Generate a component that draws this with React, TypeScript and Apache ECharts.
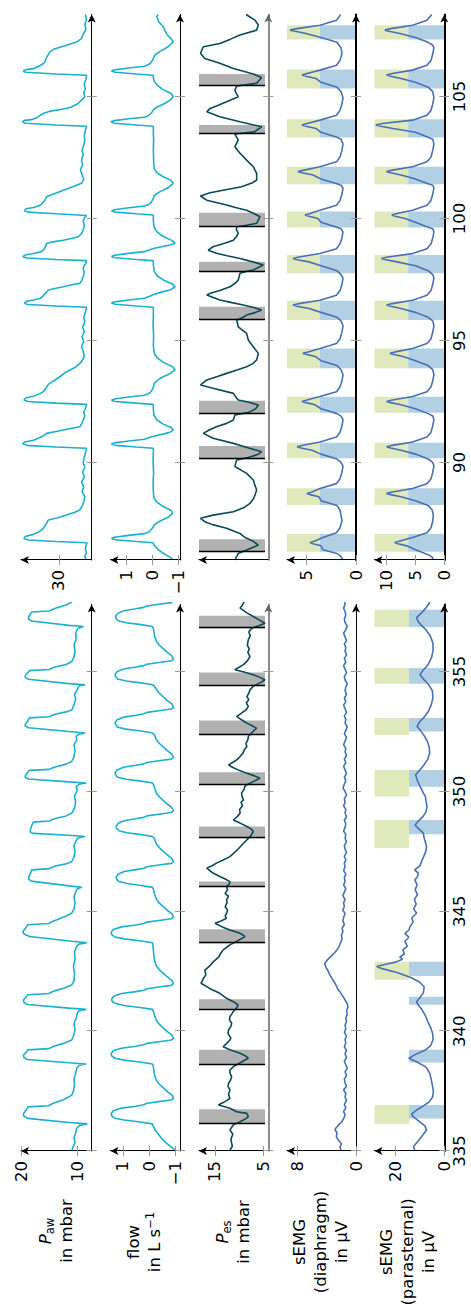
import React, { useEffect, useRef } from "react";
import * as echarts from "echarts";

const FONT = "DejaVu Sans";

// ---------------- tick labels ----------------
const timeTicksL = [335, 340, 345, 350, 355];
const timeTicksR = [90, 95, 100, 105];
const pawTicksL = [10, 20];
const flowTicksL = [-1, 0, 1];
const pesTicksL = [5, 15];
const diaTicksL = [0, 8];
const paraTicksL = [0, 20];
const pawTicksR = [30];
const flowTicksR = [-1, 0, 1];
const diaTicksR = [0, 5];
const paraTicksR = [0, 5, 10];

// ---------------- left window (335 s - 358 s) ----------------
const pawL = [
[335.0,11.0],[335.15,10.8],[335.35,10.4],[335.55,10.6],[335.75,10.3],[335.95,10.1],[336.07,9.6],
[336.13,8.2],[336.19,11.5],[336.36,18.9],[336.45,19.6],[336.55,19.7],[336.7,19.2],[336.84,18.9],[336.89,15.2],[336.95,14.7],[337.0,14.2],[337.15,12.4],[337.33,11.0],[337.5,10.7],
[337.75,10.5],[338.0,10.6],[338.25,10.3],[338.45,10.1],[338.57,9.7],
[338.63,8.4],[338.68,11.5],[338.82,19.0],[338.9,19.6],[339.0,19.7],[339.12,19.2],[339.22,18.9],[339.27,15.1],[339.33,14.6],[339.38,14.1],[339.5,12.3],[339.63,11.0],[339.8,10.7],
[340.05,10.4],[340.3,10.6],[340.55,10.2],[340.75,10.0],[340.85,9.7],
[340.91,8.4],[340.96,11.5],[341.11,19.0],[341.2,19.6],[341.3,19.7],[341.42,19.2],[341.52,18.9],[341.57,15.1],[341.63,14.6],[341.68,14.1],[341.8,12.3],[341.93,11.0],[342.1,10.6],
[342.4,10.5],[342.7,10.7],[343.0,10.4],[343.3,10.5],[343.5,10.2],[343.63,9.7],
[343.69,8.3],[343.75,11.0],[343.95,18.6],[344.05,19.6],[344.15,19.8],[344.3,19.3],[344.44,18.9],[344.49,15.1],[344.55,14.7],[344.62,14.0],[344.78,12.2],[344.92,11.0],[345.1,10.6],
[345.35,10.4],[345.6,10.6],[345.8,10.3],[345.94,10.0],
[346.0,9.2],[346.06,11.5],[346.26,18.3],[346.35,18.8],[346.45,18.7],[346.6,18.4],[346.73,18.2],[346.78,15.0],[346.84,14.5],[346.9,13.8],[346.98,12.0],[347.07,11.0],[347.25,10.6],
[347.5,10.4],[347.75,10.6],[347.95,10.2],[348.06,9.9],
[348.12,8.6],[348.17,11.5],[348.25,18.0],[348.32,18.5],[348.42,18.4],[348.58,18.2],[348.72,17.9],[348.77,15.0],[348.83,14.5],[348.88,13.8],[348.98,12.0],[349.1,11.0],[349.3,10.5],
[349.55,10.3],[349.8,10.5],[350.05,10.0],[350.2,10.2],[350.3,9.7],
[350.35,8.4],[350.4,11.5],[350.52,18.8],[350.6,19.4],[350.68,19.3],[350.8,18.9],[350.88,18.6],[350.92,15.0],[350.98,14.5],[351.03,13.8],[351.14,12.0],[351.25,11.0],[351.45,10.6],
[351.7,10.4],[351.95,10.6],[352.15,10.1],[352.3,10.2],[352.39,9.7],
[352.44,8.6],[352.5,11.5],[352.66,18.8],[352.74,19.4],[352.82,19.3],[352.95,18.9],[353.07,18.6],[353.12,15.0],[353.18,14.5],[353.23,13.8],[353.32,12.0],[353.4,11.0],[353.6,10.6],
[353.85,10.3],[354.05,10.5],[354.25,10.0],[354.4,9.7],
[354.45,8.6],[354.5,11.5],[354.68,18.8],[354.76,19.4],[354.85,19.3],[354.95,18.9],[355.04,18.6],[355.09,15.0],[355.15,14.5],[355.2,13.8],[355.3,12.0],[355.42,11.0],[355.6,10.6],
[355.85,10.4],[356.1,10.6],[356.35,10.2],[356.6,10.3],[356.8,9.9],
[356.88,8.9],[356.93,11.5],[357.11,18.2],[357.19,18.8],[357.3,18.7],[357.42,18.4],[357.49,18.2],[357.53,15.0],[357.59,14.5],[357.65,13.8],[357.78,12.0],[357.9,11.0]
];

const flowL = [
[335.0,-1.0],[335.1,-0.93],[335.3,-0.7],[335.5,-0.5],[335.7,-0.36],[335.9,-0.22],[336.05,-0.16],
[336.13,-0.13],[336.21,0.35],[336.29,0.95],[336.37,1.3],[336.46,1.42],[336.55,1.45],[336.68,1.37],[336.79,1.05],[336.87,0.5],[336.93,0.2],[336.99,0.08],[337.07,-0.45],[337.13,-0.85],[337.2,-0.94],[337.33,-0.88],[337.48,-0.7],[337.63,-0.55],[337.78,-0.4],[337.93,-0.29],[338.13,-0.22],[338.33,-0.19],[338.55,-0.16],
[338.63,-0.13],[338.71,0.35],[338.79,0.95],[338.87,1.3],[338.96,1.42],[339.05,1.45],[339.18,1.37],[339.29,1.05],[339.37,0.5],[339.43,0.2],[339.49,0.08],[339.57,-0.45],[339.63,-0.85],[339.7,-0.94],[339.83,-0.88],[339.98,-0.7],[340.13,-0.55],[340.28,-0.4],[340.43,-0.29],[340.63,-0.22],[340.83,-0.17],
[340.91,-0.13],[340.99,0.35],[341.07,0.95],[341.15,1.28],[341.24,1.4],[341.33,1.43],[341.46,1.35],[341.57,1.05],[341.65,0.5],[341.71,0.2],[341.77,0.08],[341.85,-0.45],[341.91,-0.85],[341.98,-0.94],[342.11,-0.88],[342.26,-0.7],[342.41,-0.55],[342.56,-0.4],[342.71,-0.29],[342.91,-0.22],[343.11,-0.19],[343.35,-0.17],[343.6,-0.15],
[343.69,-0.13],[343.77,0.35],[343.85,0.95],[343.93,1.3],[344.02,1.42],[344.11,1.45],[344.24,1.37],[344.35,1.05],[344.43,0.5],[344.49,0.2],[344.55,0.08],[344.63,-0.45],[344.69,-0.85],[344.76,-0.94],[344.89,-0.88],[345.04,-0.7],[345.19,-0.55],[345.34,-0.4],[345.49,-0.29],[345.69,-0.22],[345.92,-0.17],
[346.0,-0.13],[346.08,0.3],[346.16,0.85],[346.24,1.15],[346.33,1.23],[346.42,1.26],[346.55,1.18],[346.66,0.95],[346.74,0.5],[346.8,0.2],[346.86,0.08],[346.94,-0.45],[347.0,-0.85],[347.07,-0.94],[347.2,-0.88],[347.35,-0.7],[347.5,-0.55],[347.65,-0.4],[347.8,-0.29],[348.05,-0.2],
[348.12,-0.13],[348.2,0.3],[348.28,0.85],[348.36,1.15],[348.45,1.23],[348.54,1.26],[348.67,1.18],[348.78,0.95],[348.86,0.5],[348.92,0.2],[348.98,0.08],[349.06,-0.45],[349.12,-0.85],[349.19,-0.94],[349.32,-0.88],[349.47,-0.7],[349.62,-0.55],[349.77,-0.4],[349.92,-0.29],[350.12,-0.22],[350.28,-0.18],
[350.35,-0.13],[350.43,0.3],[350.51,0.88],[350.59,1.2],[350.68,1.27],[350.77,1.3],[350.9,1.22],[351.01,0.97],[351.09,0.5],[351.15,0.2],[351.21,0.08],[351.29,-0.45],[351.35,-0.85],[351.42,-0.94],[351.55,-0.88],[351.7,-0.7],[351.85,-0.55],[352.0,-0.4],[352.15,-0.29],[352.37,-0.2],
[352.44,-0.13],[352.52,0.3],[352.6,0.88],[352.68,1.2],[352.77,1.27],[352.86,1.3],[352.99,1.22],[353.1,0.97],[353.18,0.5],[353.24,0.2],[353.3,0.08],[353.38,-0.45],[353.44,-0.85],[353.51,-0.94],[353.64,-0.88],[353.79,-0.7],[353.94,-0.55],[354.09,-0.4],[354.24,-0.29],[354.4,-0.2],
[354.45,-0.13],[354.53,0.3],[354.61,0.88],[354.69,1.2],[354.78,1.27],[354.87,1.3],[355.0,1.22],[355.11,0.97],[355.19,0.5],[355.25,0.2],[355.31,0.08],[355.39,-0.45],[355.45,-0.85],[355.52,-0.94],[355.65,-0.88],[355.8,-0.7],[355.95,-0.55],[356.1,-0.4],[356.25,-0.29],[356.45,-0.22],[356.65,-0.19],[356.82,-0.16],
[356.88,-0.13],[356.96,0.3],[357.04,0.87],[357.12,1.18],[357.21,1.25],[357.3,1.28],[357.43,1.2],[357.54,0.96],[357.62,0.5],[357.68,0.2],[357.74,0.08],[357.82,-0.45],[357.88,-0.85],[357.95,-0.94]
];

const pesL = [
[335.0,11.8],[335.04,11.9],[335.2,11.4],[335.32,11.55],[335.5,11.7],[335.7,11.3],[335.88,11.9],[336.0,11.5],[336.09,11.2],[336.22,9.8],[336.35,8.6],[336.43,8.1],[336.52,8.3],[336.57,8.4],[336.64,10.5],[336.78,11.9],[336.92,14.3],[337.02,13.3],[337.1,12.6],[337.2,11.9],[337.35,12.2],[337.55,11.9],[337.7,12.3],[337.82,12.2],[337.95,11.8],[338.1,11.55],[338.25,11.9],[338.38,11.9],[338.52,11.2],[338.7,9.6],[338.87,8.1],[338.98,8.8],[339.08,9.8],[339.22,11.9],[339.35,13.3],[339.45,12.8],[339.56,12.2],[339.7,11.7],[339.77,11.9],[339.9,12.3],[340.05,12.2],[340.2,11.7],[340.33,11.55],[340.47,12.0],[340.61,11.9],[340.72,11.5],[340.82,11.2],[340.95,10.6],[341.09,10.2],[341.23,11.2],[341.37,12.6],[341.58,14.0],[341.75,15.8],[341.86,16.7],[342.0,17.9],[342.1,17.6],[342.2,17.4],[342.35,16.9],[342.55,17.1],[342.7,16.2],[342.9,15.3],[343.1,14.2],[343.25,13.8],[343.39,13.3],[343.5,12.6],[343.6,11.9],[343.75,10.5],[343.88,9.3],[343.95,8.8],[344.02,9.3],[344.08,9.8],[344.22,11.9],[344.35,13.5],[344.5,15.0],[344.57,14.0],[344.71,12.6],[344.8,12.9],[344.92,12.6],[345.05,12.4],[345.2,12.9],[345.35,12.5],[345.48,12.6],[345.62,12.2],[345.75,12.9],[345.9,12.4],[346.03,12.6],[346.15,12.0],[346.24,11.9],[346.35,12.9],[346.45,14.0],[346.62,15.6],[346.8,16.7],[346.9,15.6],[347.01,14.7],[347.15,13.2],[347.28,11.9],[347.45,11.0],[347.6,10.2],[347.84,9.1],[348.0,8.3],[348.15,7.6],[348.33,7.06],[348.45,7.6],[348.54,8.4],[348.68,9.8],[348.81,11.2],[348.95,10.4],[349.09,9.8],[349.25,9.9],[349.4,9.3],[349.55,9.6],[349.65,9.1],[349.8,9.4],[349.93,9.5],[350.08,9.0],[350.21,8.8],[350.28,8.4],[350.42,7.0],[350.55,5.7],[350.65,6.8],[350.76,8.4],[350.9,10.2],[351.0,11.3],[351.11,12.2],[351.25,11.0],[351.35,10.3],[351.46,9.8],[351.6,9.2],[351.75,8.9],[351.88,8.4],[352.0,8.6],[352.15,8.2],[352.29,8.1],[352.45,7.4],[352.64,6.4],[352.75,7.4],[352.85,8.4],[353.0,9.6],[353.13,10.5],[353.27,9.5],[353.4,8.6],[353.54,8.1],[353.7,8.5],[353.83,8.0],[353.96,8.4],[354.1,8.0],[354.24,7.75],[354.4,7.0],[354.55,5.5],[354.66,4.65],[354.77,5.8],[354.87,7.06],[354.98,9.0],[355.08,10.9],[355.18,10.0],[355.29,9.1],[355.45,8.3],[355.63,7.75],[355.8,8.2],[355.95,7.9],[356.1,8.3],[356.33,8.1],[356.5,7.7],[356.65,8.0],[356.81,7.4],[356.92,5.8],[357.02,4.65],[357.15,5.8],[357.3,7.06],[357.45,8.4],[357.65,9.8],[357.75,9.4],[357.86,9.1],[358.0,8.8]
];

const diaL = [
[335.0,2.0],[335.15,2.2],[335.3,2.0],[335.45,2.4],[335.6,2.7],[335.75,2.6],[335.9,2.9],[336.05,2.5],[336.2,2.0],[336.35,1.7],[336.5,1.5],[336.65,1.7],[336.8,1.4],[336.95,1.6],[337.1,1.3],[337.25,1.5],[337.4,1.4],[337.55,1.7],[337.7,1.3],[337.85,1.5],[338.0,1.6],[338.15,1.3],[338.3,1.5],[338.45,1.2],[338.6,1.4],[338.75,1.6],[338.9,1.3],[339.05,1.5],[339.2,1.3],[339.35,1.6],[339.5,1.4],[339.65,1.5],[339.8,1.3],[339.95,1.6],[340.1,1.4],[340.25,1.5],[340.4,1.3],[340.55,1.4],[340.7,1.2],[340.85,1.3],[341.0,1.1],[341.15,1.2],[341.3,1.5],[341.45,1.8],[341.6,2.1],[341.75,2.5],[341.9,2.7],[342.05,3.0],[342.2,3.3],[342.35,3.6],[342.5,3.8],[342.65,4.1],[342.8,4.3],[342.95,4.0],[343.1,3.5],[343.25,3.0],[343.4,2.6],[343.55,2.3],[343.7,2.1],[343.85,1.9],[344.0,2.0],[344.15,1.8],[344.3,1.9],[344.45,1.6],[344.6,1.8],[344.75,1.7],[344.9,1.5],[345.05,1.8],[345.2,1.6],[345.35,1.7],[345.5,1.5],[345.65,1.8],[345.8,1.6],[345.95,1.4],[346.1,1.7],[346.25,1.5],[346.4,1.6],[346.55,1.4],[346.7,1.7],[346.85,1.5],[347.0,1.6],[347.15,1.4],[347.3,1.6],[347.45,1.3],[347.6,1.5],[347.75,1.6],[347.9,1.3],[348.05,1.5],[348.2,1.4],[348.35,1.7],[348.5,1.5],[348.65,1.4],[348.8,1.6],[348.95,1.3],[349.1,1.5],[349.25,1.4],[349.4,1.7],[349.55,1.5],[349.7,1.6],[349.85,1.3],[350.0,1.5],[350.15,1.8],[350.3,1.6],[350.45,1.4],[350.6,1.6],[350.75,1.3],[350.9,1.5],[351.05,1.7],[351.2,1.4],[351.35,1.6],[351.5,1.3],[351.65,1.5],[351.8,1.4],[351.95,1.7],[352.1,1.5],[352.25,1.3],[352.4,1.6],[352.55,1.4],[352.7,1.2],[352.85,1.5],[353.0,1.4],[353.15,1.6],[353.3,1.3],[353.45,1.5],[353.6,1.7],[353.75,1.4],[353.9,1.6],[354.05,1.3],[354.2,1.5],[354.35,1.4],[354.5,1.2],[354.65,1.5],[354.8,1.6],[354.95,1.3],[355.1,1.5],[355.25,1.7],[355.4,1.4],[355.55,1.6],[355.7,1.3],[355.85,1.5],[356.0,1.4],[356.15,1.6],[356.3,1.3],[356.45,1.5],[356.6,1.7],[356.75,1.4],[356.9,1.2],[357.05,1.5],[357.2,1.6],[357.35,1.4],[357.5,1.5],[357.65,1.7],[357.8,1.5],[358.0,1.6]
];

const paraL = [
[335.0,12.0],[335.18,12.7],[335.45,10.5],[335.7,8.6],[335.88,7.3],[336.05,8.0],[336.25,10.5],[336.45,13.0],[336.54,13.4],[336.7,11.5],[336.88,8.6],[337.05,6.2],[337.25,4.8],[337.5,4.5],[337.75,4.9],[338.0,5.4],[338.25,6.0],[338.5,7.5],[338.7,11.0],[338.87,14.6],[339.02,12.0],[339.2,8.0],[339.4,5.6],[339.65,4.6],[339.9,4.8],[340.15,5.6],[340.4,6.8],[340.65,7.8],[340.9,9.2],[341.1,10.8],[341.23,11.4],[341.4,10.0],[341.6,8.6],[341.85,8.3],[342.05,10.2],[342.25,14.0],[342.45,19.5],[342.62,26.0],[342.7,27.8],[342.78,24.5],[342.88,20.0],[343.0,17.2],[343.1,18.3],[343.22,16.4],[343.39,17.0],[343.55,15.2],[343.75,16.2],[343.92,14.6],[344.08,16.2],[344.22,14.5],[344.36,14.1],[344.55,12.8],[344.72,13.4],[344.92,11.4],[345.1,12.6],[345.3,11.6],[345.5,12.3],[345.7,11.0],[345.9,12.0],[346.1,11.2],[346.31,12.1],[346.45,11.0],[346.59,10.7],[346.73,12.2],[346.9,10.0],[347.1,9.3],[347.3,8.4],[347.5,7.6],[347.7,7.3],[347.9,7.8],[348.1,8.4],[348.26,8.6],[348.45,10.6],[348.6,12.0],[348.75,10.8],[348.95,8.8],[349.15,7.5],[349.37,7.1],[349.6,7.5],[349.8,7.8],[349.93,8.6],[350.1,9.4],[350.3,10.4],[350.5,11.2],[350.7,11.8],[350.9,10.0],[351.1,8.4],[351.35,6.8],[351.6,6.0],[351.85,6.2],[352.1,7.0],[352.35,8.4],[352.55,9.8],[352.71,11.2],[352.9,10.2],[353.1,8.3],[353.35,6.5],[353.6,5.4],[353.9,4.7],[354.2,4.9],[354.45,6.4],[354.65,8.2],[354.87,10.0],[355.05,8.8],[355.3,6.6],[355.6,5.2],[355.9,4.6],[356.2,4.7],[356.5,5.8],[356.75,7.6],[356.95,9.6],[357.1,10.8],[357.25,11.4],[357.45,9.4],[357.65,7.6],[357.85,6.2],[358.0,5.8]
];

// ---------------- right window (86 s - 108.4 s) ----------------
const pawR = [
[86.0,25.1],[86.15,25.3],[86.3,25.0],[86.45,25.2],[86.6,25.1],[86.68,24.9],
[86.71,25.0],[86.76,30.5],[86.82,35.5],[86.88,36.3],[86.96,36.1],[87.05,34.6],[87.15,33.6],[87.3,32.8],[87.5,32.2],[87.64,31.9],[87.74,30.0],[87.84,28.6],[87.95,27.2],[88.05,26.2],[88.25,25.7],[88.45,25.4],[88.6,25.3],[88.8,25.8],[89.0,25.5],[89.2,25.9],[89.4,25.4],[89.6,25.7],[89.8,25.3],[90.0,25.6],[90.2,25.4],[90.4,25.2],[90.55,25.0],
[90.58,25.0],[90.63,30.5],[90.7,35.8],[90.76,36.5],[90.84,36.2],[90.91,34.6],[91.0,33.6],[91.08,32.9],[91.19,32.2],[91.27,30.5],[91.33,29.2],[91.4,27.6],[91.46,26.2],[91.6,25.8],[91.74,25.6],[91.9,25.3],[92.05,25.5],[92.2,25.2],[92.35,25.0],
[92.38,25.0],[92.43,30.5],[92.5,35.6],[92.56,36.3],[92.64,36.0],[92.72,34.5],[92.82,33.4],[92.9,32.8],[93.05,32.3],[93.2,31.9],[93.45,30.2],[93.72,28.6],[93.9,27.0],[94.1,26.0],[94.33,25.4],[94.55,25.6],[94.75,25.9],[94.95,25.5],[95.15,25.8],[95.35,25.4],[95.55,25.7],[95.75,25.3],[95.95,25.5],[96.15,25.2],[96.33,25.0],
[96.36,25.0],[96.41,30.5],[96.47,35.6],[96.52,36.2],[96.6,35.9],[96.66,34.6],[96.72,33.4],[96.8,32.9],[96.92,32.5],[97.07,31.9],[97.14,30.5],[97.2,29.2],[97.28,27.6],[97.34,26.2],[97.48,25.8],[97.61,25.6],[97.8,25.4],[97.95,25.6],[98.1,25.3],[98.24,25.0],
[98.27,25.0],[98.32,30.5],[98.38,35.8],[98.43,36.5],[98.5,36.1],[98.56,34.6],[98.64,33.1],[98.75,32.6],[98.98,32.2],[99.05,30.8],[99.11,29.2],[99.18,27.8],[99.25,26.5],[99.38,25.9],[99.52,25.6],[99.7,25.4],[99.9,25.6],[100.05,25.3],[100.12,25.0],
[100.14,25.0],[100.19,30.5],[100.26,35.6],[100.32,36.2],[100.4,35.9],[100.45,34.6],[100.52,33.6],[100.59,33.1],[100.75,32.5],[100.89,32.2],[100.96,31.5],[101.05,30.3],[101.16,29.2],[101.3,27.5],[101.44,25.9],[101.6,25.5],[101.8,25.8],[102.0,26.1],[102.2,25.7],[102.4,25.9],[102.6,25.6],[102.8,25.8],[103.0,25.5],[103.2,25.3],[103.4,25.4],[103.6,25.2],[103.75,25.0],
[103.78,25.0],[103.83,30.5],[103.9,36.0],[103.96,36.6],[104.02,36.2],[104.05,34.9],[104.15,33.8],[104.23,33.4],[104.3,32.8],[104.4,31.5],[104.5,28.9],[104.57,27.7],[104.7,26.6],[104.85,25.9],[104.99,25.3],[105.15,25.5],[105.3,25.2],[105.5,25.4],[105.7,25.1],[105.84,25.0],
[105.87,25.0],[105.92,30.5],[105.99,36.0],[106.05,36.4],[106.1,35.9],[106.14,34.6],[106.25,33.5],[106.35,32.8],[106.42,32.5],[106.6,32.2],[106.83,31.6],[106.95,30.8],[107.1,28.6],[107.23,26.8],[107.37,25.9],[107.55,25.6],[107.75,25.1],[107.95,25.3],[108.15,25.0],[108.36,25.2]
];

const flowR = [
[86.0,-0.8],[86.1,-0.7],[86.2,-0.55],[86.3,-0.38],[86.45,-0.2],[86.6,-0.07],[86.68,-0.04],
[86.71,-0.03],[86.76,0.6],[86.83,1.4],[86.88,1.56],[86.93,1.45],[87.01,0.9],[87.08,0.3],[87.16,0.12],[87.26,0.03],[87.35,-0.03],
[87.45,-0.08],[87.6,-0.3],[87.75,-0.6],[87.91,-0.78],[88.03,-0.72],[88.2,-0.4],[88.38,-0.17],[88.55,-0.06],[88.8,-0.04],[89.2,-0.03],[89.6,-0.05],[90.0,-0.03],[90.4,-0.04],[90.55,-0.04],
[90.58,-0.03],[90.63,0.6],[90.7,1.42],[90.75,1.56],[90.8,1.45],[90.88,0.9],[90.95,0.3],[91.02,0.12],[91.08,-0.1],
[91.17,-0.45],[91.25,-0.7],[91.33,-0.8],[91.43,-0.72],[91.58,-0.4],[91.75,-0.17],[91.95,-0.06],[92.2,-0.04],[92.35,-0.04],
[92.38,-0.03],[92.43,0.6],[92.5,1.42],[92.55,1.56],[92.6,1.45],[92.68,0.9],[92.75,0.3],[92.83,0.12],[92.93,0.03],[93.05,-0.03],
[93.25,-0.08],[93.45,-0.3],[93.62,-0.65],[93.79,-0.87],[93.92,-0.78],[94.1,-0.42],[94.3,-0.18],[94.5,-0.07],[94.8,-0.04],[95.2,-0.05],[95.6,-0.03],[96.0,-0.04],[96.33,-0.04],
[96.36,-0.03],[96.41,0.6],[96.48,1.42],[96.53,1.56],[96.58,1.45],[96.66,0.9],[96.73,0.3],[96.8,0.12],[96.88,-0.05],
[96.98,-0.35],[97.08,-0.7],[97.2,-0.87],[97.3,-0.78],[97.48,-0.42],[97.65,-0.18],[97.85,-0.07],[98.1,-0.04],[98.24,-0.04],
[98.27,-0.03],[98.32,0.6],[98.39,1.42],[98.44,1.56],[98.49,1.45],[98.57,0.9],[98.64,0.3],[98.71,0.12],[98.78,-0.08],
[98.85,-0.4],[98.92,-0.72],[98.98,-0.87],[99.08,-0.78],[99.26,-0.42],[99.45,-0.18],[99.65,-0.07],[99.9,-0.04],[100.11,-0.04],
[100.14,-0.03],[100.19,0.6],[100.26,1.42],[100.31,1.56],[100.36,1.45],[100.44,0.9],[100.51,0.3],[100.58,0.12],[100.68,0.03],[100.8,-0.03],
[100.95,-0.08],[101.1,-0.3],[101.27,-0.62],[101.44,-0.8],[101.56,-0.72],[101.72,-0.4],[101.88,-0.17],[102.05,-0.07],[102.4,-0.05],[102.8,-0.04],[103.2,-0.05],[103.5,-0.04],[103.75,-0.04],
[103.78,-0.03],[103.83,0.6],[103.9,1.45],[103.96,1.58],[104.01,1.45],[104.09,0.9],[104.15,0.3],[104.23,0.12],[104.33,0.03],[104.45,-0.04],
[104.55,-0.15],[104.7,-0.45],[104.85,-0.68],[105.0,-0.8],[105.12,-0.72],[105.3,-0.38],[105.45,-0.2],[105.6,-0.08],[105.75,-0.04],[105.84,-0.04],
[105.87,-0.03],[105.92,0.6],[105.99,1.42],[106.04,1.56],[106.09,1.45],[106.17,0.9],[106.24,0.3],[106.32,0.12],[106.42,0.03],[106.55,-0.04],
[106.7,-0.1],[106.85,-0.3],[107.05,-0.62],[107.24,-0.8],[107.36,-0.72],[107.55,-0.55],[107.86,-0.42],[108.05,-0.25],[108.27,-0.17],[108.36,-0.22]
];

const pesR = [
[86.0,6.9],[86.15,6.5],[86.27,6.2],[86.41,4.47],[86.61,2.06],[86.78,3.2],[86.92,4.8],[87.09,5.85],[87.3,8.6],[87.45,11.5],[87.57,13.1],[87.71,14.0],[87.84,11.4],[87.98,7.2],[88.15,5.0],[88.32,3.79],[88.5,3.1],[88.66,2.75],[88.87,2.4],[89.08,2.8],[89.28,3.1],[89.55,4.47],[89.83,6.9],[90.0,6.7],[90.1,6.5],[90.2,4.2],[90.32,2.2],[90.44,1.38],[90.6,4.2],[90.78,7.2],[90.99,11.4],[91.19,13.4],[91.33,12.2],[91.46,10.7],[91.6,8.6],[91.74,7.2],[91.94,6.9],[92.05,4.0],[92.2,2.6],[92.35,2.06],[92.48,4.2],[92.56,6.2],[92.7,6.8],[92.83,7.2],[93.04,11.4],[93.17,14.0],[93.38,12.7],[93.52,10.5],[93.65,8.6],[93.8,6.3],[93.92,4.47],[94.05,3.2],[94.2,2.4],[94.47,2.06],[94.74,3.1],[95.02,4.13],[95.29,4.47],[95.56,6.2],[95.84,6.5],[95.95,5.2],[96.04,4.47],[96.15,2.6],[96.25,1.38],[96.35,3.0],[96.45,5.16],[96.55,7.5],[96.66,10.0],[96.86,12.7],[96.93,12.0],[97.05,10.0],[97.2,7.9],[97.35,6.8],[97.48,6.2],[97.75,5.85],[97.82,4.8],[97.89,3.1],[98.09,1.03],[98.2,2.8],[98.36,5.85],[98.47,8.5],[98.57,10.7],[98.7,12.4],[98.84,11.4],[98.98,9.0],[99.11,7.2],[99.25,6.6],[99.39,6.2],[99.55,6.6],[99.66,6.5],[99.72,4.5],[99.8,2.4],[100.07,1.72],[100.2,3.0],[100.34,4.47],[100.45,6.8],[100.55,8.6],[100.75,12.7],[100.92,14.0],[101.05,12.0],[101.18,8.8],[101.3,5.5],[101.45,3.4],[101.57,2.4],[101.85,2.4],[102.12,3.1],[102.39,4.47],[102.67,5.85],[102.94,6.9],[103.21,6.2],[103.46,6.9],[103.55,2.9],[103.76,1.38],[103.96,5.85],[104.17,10.0],[104.37,12.7],[104.51,12.0],[104.65,10.2],[104.78,8.6],[104.99,6.2],[105.13,6.6],[105.26,6.9],[105.43,6.5],[105.54,2.4],[105.78,1.38],[105.92,3.1],[106.15,7.2],[106.36,10.0],[106.56,13.1],[106.77,14.0],[107.04,13.4],[107.17,10.0],[107.35,7.8],[107.52,5.85],[107.72,2.41],[107.93,2.06],[108.13,2.75],[108.36,4.6]
];

const diaR = [
[86.0,1.3],[86.15,1.5],[86.27,1.9],[86.42,3.3],[86.58,3.5],[86.67,4.3],[86.72,4.6],[86.78,4.1],[86.92,3.3],[87.12,1.95],[87.32,1.6],[87.6,1.4],[87.85,1.5],[88.05,1.6],
[88.23,1.9],[88.43,3.5],[88.59,3.7],[88.68,4.6],[88.73,4.9],[88.79,4.4],[88.93,3.6],[89.13,1.95],[89.33,1.6],[89.6,1.4],[89.85,1.3],[90.0,1.5],
[90.14,1.9],[90.34,3.5],[90.5,4.4],[90.59,5.5],[90.64,5.9],[90.7,5.3],[90.84,3.6],[91.04,1.95],[91.24,1.6],[91.5,1.4],[91.75,1.3],[91.9,1.5],
[92.0,1.9],[92.2,3.5],[92.36,4.1],[92.45,5.0],[92.5,5.4],[92.56,4.9],[92.7,3.6],[92.9,1.95],[93.1,1.6],[93.35,1.4],[93.6,1.3],[93.8,1.5],
[93.97,1.9],[94.17,3.5],[94.33,4.0],[94.42,4.9],[94.47,5.3],[94.53,4.8],[94.67,3.6],[94.87,1.95],[95.07,1.6],[95.35,1.4],[95.6,1.3],[95.8,1.5],
[95.95,1.9],[96.15,3.5],[96.31,4.7],[96.4,5.9],[96.45,6.3],[96.51,5.7],[96.65,3.6],[96.85,1.95],[97.05,1.6],[97.3,1.4],[97.55,1.3],[97.7,1.5],
[97.86,1.9],[98.06,3.5],[98.22,4.7],[98.31,5.9],[98.36,6.3],[98.42,5.7],[98.56,3.6],[98.76,1.95],[98.96,1.6],[99.2,1.4],[99.45,1.3],[99.58,1.5],
[99.64,1.9],[99.84,3.5],[100.0,3.8],[100.09,4.7],[100.14,5.1],[100.2,4.6],[100.34,3.6],[100.54,1.95],[100.74,1.6],[101.0,1.4],[101.25,1.3],[101.36,1.5],
[101.42,1.9],[101.62,3.5],[101.78,4.3],[101.87,5.4],[101.92,5.8],[101.98,5.2],[102.12,3.6],[102.32,1.95],[102.52,1.6],[102.8,1.4],[103.05,1.3],[103.25,1.5],
[103.33,1.9],[103.53,3.5],[103.69,4.0],[103.78,5.0],[103.83,5.4],[103.89,4.9],[104.03,3.6],[104.23,1.95],[104.43,1.6],[104.7,1.4],[104.95,1.3],[105.2,1.5],
[105.38,1.9],[105.58,3.5],[105.74,4.0],[105.83,5.0],[105.88,5.4],[105.94,4.9],[106.08,3.6],[106.28,1.95],[106.48,1.6],[106.75,1.4],[107.0,1.5],[107.1,1.7],
[107.22,1.9],[107.42,3.5],[107.58,5.0],[107.67,6.1],[107.72,6.6],[107.78,5.9],[107.92,3.6],[108.12,1.95],[108.32,1.6],[108.36,1.55]
];

const paraR = [
[86.0,1.9],[86.12,2.1],[86.22,2.8],[86.42,5.0],[86.58,6.5],[86.67,8.0],[86.72,8.6],[86.78,7.7],[86.92,5.5],[87.12,3.0],[87.32,2.3],[87.6,2.0],[87.85,1.9],[88.05,2.1],
[88.23,2.8],[88.43,5.0],[88.59,7.5],[88.68,9.3],[88.73,10.0],[88.79,9.0],[88.93,5.5],[89.13,3.0],[89.33,2.3],[89.6,2.0],[89.85,1.8],[90.0,2.0],
[90.14,2.8],[90.34,5.0],[90.5,7.5],[90.59,9.3],[90.64,10.0],[90.7,9.0],[90.84,5.5],[91.04,3.0],[91.24,2.3],[91.5,2.0],[91.75,1.8],[91.9,2.0],
[92.0,2.8],[92.2,5.0],[92.36,7.5],[92.45,9.3],[92.5,10.0],[92.56,9.0],[92.7,5.5],[92.9,3.0],[93.1,2.3],[93.35,2.0],[93.6,1.8],[93.8,2.0],
[93.97,2.8],[94.17,5.0],[94.33,7.0],[94.42,8.7],[94.47,9.4],[94.53,8.5],[94.67,5.5],[94.87,3.0],[95.07,2.3],[95.35,2.0],[95.6,1.8],[95.8,2.0],
[95.95,2.8],[96.15,5.0],[96.31,7.5],[96.4,9.3],[96.45,10.0],[96.51,9.0],[96.65,5.5],[96.85,3.0],[97.05,2.3],[97.3,2.0],[97.55,1.8],[97.7,2.0],
[97.86,2.8],[98.06,5.0],[98.22,8.2],[98.31,10.1],[98.36,10.9],[98.42,9.8],[98.56,5.5],[98.76,3.0],[98.96,2.3],[99.2,2.0],[99.45,1.8],[99.58,2.0],
[99.64,2.8],[99.84,5.0],[100.0,6.8],[100.09,8.5],[100.14,9.1],[100.2,8.2],[100.34,5.5],[100.54,3.0],[100.74,2.3],[101.0,2.0],[101.25,1.8],[101.36,2.0],
[101.42,2.8],[101.62,5.0],[101.78,7.5],[101.87,9.3],[101.92,10.0],[101.98,9.0],[102.12,5.5],[102.32,3.0],[102.52,2.3],[102.8,2.0],[103.05,1.8],[103.25,2.0],
[103.33,2.8],[103.53,5.0],[103.69,8.9],[103.78,11.0],[103.83,11.9],[103.89,10.7],[104.03,5.5],[104.23,3.0],[104.43,2.3],[104.7,2.0],[104.95,1.8],[105.2,2.0],
[105.38,2.8],[105.58,5.0],[105.74,7.5],[105.83,9.3],[105.88,10.0],[105.94,9.0],[106.08,5.5],[106.28,3.0],[106.48,2.3],[106.75,2.0],[107.0,1.8],[107.1,2.0],
[107.22,2.8],[107.42,5.0],[107.58,7.7],[107.67,9.6],[107.72,10.3],[107.78,9.3],[107.92,5.5],[108.12,3.0],[108.32,2.3],[108.36,2.2]
];

// ---------------- event intervals (s) ----------------
const pesEventsL = [[336.13,336.74],[338.59,339.22],[340.88,341.33],[343.67,344.25],[346.03,346.24],[348.05,348.54],[350.28,350.8],[352.36,352.96],[354.41,354.96],[356.81,357.33]];
const pesEventsR = [[86.34,86.85],[90.13,90.67],[92.01,92.53],[95.86,96.38],[97.82,98.23],[99.66,100.23],[103.46,103.83],[105.43,105.92]];
const greenL = [[336.13,336.92],[342.14,342.9],[347.64,348.81],[349.79,350.9],[352.36,353.06],[354.49,355.15],[356.86,357.58]];
const blueL = [[336.36,336.92],[338.69,339.22],[341.1,341.44],[342.3,342.9],[348.21,348.81],[350.2,350.9],[352.5,353.06],[354.49,355.15],[356.86,357.58]];
const emgEventsR = [[86.34,87.07],[88.25,88.94],[90.17,90.81],[92.04,92.69],[93.86,94.67],[95.84,96.63],[97.75,98.5],[99.63,100.28],[101.4,102.12],[103.32,104.07],[105.33,106.11],[107.34,107.92]];

// ---------------- styling / layout ----------------
const CYAN = "#1ab0ce";
const TEAL = "#0a4a57";
const EMG = "#4a6fb5";
const GRAY = "#b1b1b1";
const GREEN = "#dfe9bb";
const BLUE = "#b2d0e3";

const rowsGeo = [
  { top: 21, bottom: 91.7 },
  { top: 110.5, bottom: 180 },
  { top: 199, bottom: 268.3 },
  { top: 287, bottom: 356 },
  { top: 374.5, bottom: 444.3 },
];

function areaItems(events: number[][], lo: number, hi: number, color: string) {
  return events.map((e) => [
    { coord: [e[0], lo], itemStyle: { color } },
    { coord: [e[1], hi] },
  ]);
}
function lineItems(events: number[][], lo: number, hi: number) {
  return events.map((e) => [{ coord: [e[0], lo] }, { coord: [e[0], hi] }]);
}

const panels = [
  {
    left: 162, width: 546.5, tmin: 335, tmax: 357.8, timeTicks: timeTicksL,
    rows: [
      { data: pawL, color: CYAN, min: 7.41, max: 20.13, ticks: pawTicksL, axisColor: "#000", axisWidth: 1 },
      { data: flowL, color: CYAN, min: -1.185, max: 1.472, ticks: flowTicksL, axisColor: "#000", axisWidth: 1 },
      { data: pesL, color: TEAL, min: 3.96, max: 18.31, ticks: pesTicksL, axisColor: "#666", axisWidth: 1.5,
        areas: areaItems(pesEventsL, 4.64, 18.31, GRAY), lines: lineItems(pesEventsL, 4.64, 18.31) },
      { data: diaL, color: EMG, min: 0, max: 9.47, ticks: diaTicksL, axisColor: "#000", axisWidth: 1 },
      { data: paraL, color: EMG, min: 0, max: 28.7, ticks: paraTicksL, axisColor: "#000", axisWidth: 2,
        areas: [...areaItems(greenL, 14.5, 28.7, GREEN), ...areaItems(blueL, 0, 14.5, BLUE)] },
    ],
  },
  {
    left: 753, width: 545.5, tmin: 86, tmax: 108.36, timeTicks: timeTicksR,
    rows: [
      { data: pawR, color: CYAN, min: 24.06, max: 36.83, ticks: pawTicksR, axisColor: "#000", axisWidth: 1 },
      { data: flowR, color: CYAN, min: -1.059, max: 1.598, ticks: flowTicksR, axisColor: "#000", axisWidth: 1 },
      { data: pesR, color: TEAL, min: 0, max: 14.3, ticks: null, axisColor: "#666", axisWidth: 1.5,
        areas: areaItems(pesEventsR, 0.68, 14.3, GRAY), lines: lineItems(pesEventsR, 0.68, 14.3) },
      { data: diaR, color: EMG, min: 0, max: 6.9, ticks: diaTicksR, axisColor: "#000", axisWidth: 2,
        areas: [...areaItems(emgEventsR, 3.6, 6.9, GREEN), ...areaItems(emgEventsR, 0, 3.6, BLUE)] },
      { data: paraR, color: EMG, min: 0, max: 12.1, ticks: paraTicksR, axisColor: "#000", axisWidth: 2,
        areas: [...areaItems(emgEventsR, 6.25, 12.1, GREEN), ...areaItems(emgEventsR, 0, 6.25, BLUE)] },
    ],
  },
];

const titles = [
  { x: 82, y: 56, text: "{i|P}{s|aw}\nin mbar" },
  { x: 71, y: 144, text: "flow\nin L s{u|\u22121}" },
  { x: 81, y: 233, text: "{i|P}{s|es}\nin mbar" },
  { x: 71, y: 320, text: "sEMG\n(diaphragm)\nin \u00b5V" },
  { x: 61, y: 407, text: "sEMG\n(parasternal)\nin \u00b5V" },
];

function fmtVal(v: number) {
  return v < 0 ? "\u2212" + Math.abs(v) : String(v);
}

function buildOption() {
  const grid: any[] = [];
  const xAxis: any[] = [];
  const yAxis: any[] = [];
  const series: any[] = [];
  const TICK = { color: "#999", width: 1 };
  panels.forEach((p) => {
    p.rows.forEach((r: any, ri: number) => {
      const g = grid.length;
      const geo = rowsGeo[ri];
      grid.push({ left: p.left, top: geo.top, width: p.width, height: geo.bottom - geo.top, containLabel: false, outerBoundsMode: "none" });
      const isBottom = ri === rowsGeo.length - 1;
      xAxis.push({
        type: "value", gridIndex: g, min: p.tmin, max: p.tmax, position: "bottom", z: 6, silent: true,
        axisLine: { show: true, onZero: false, symbol: ["none", "arrow"], symbolSize: [6, 8], lineStyle: { color: r.axisColor, width: r.axisWidth } },
        axisTick: { show: true, customValues: p.timeTicks, length: 5, inside: false, lineStyle: TICK },
        axisLabel: { show: isBottom, customValues: p.timeTicks, fontSize: 16.5, fontFamily: FONT, color: "#000", margin: 7 },
        splitLine: { show: false },
      });
      xAxis.push({
        type: "value", gridIndex: g, min: p.tmin, max: p.tmax, position: "bottom", z: 6, silent: true,
        axisLine: { show: false, onZero: false },
        axisTick: { show: true, customValues: p.timeTicks, length: 5, inside: true, lineStyle: TICK },
        axisLabel: { show: false },
        splitLine: { show: false },
      });
      const hasTicks = !!r.ticks;
      yAxis.push({
        type: "value", gridIndex: g, min: r.min, max: r.max, position: "left", z: 6, silent: true,
        axisLine: { show: true, onZero: false, symbol: ["none", "arrow"], symbolSize: [6, 8], lineStyle: { color: "#000", width: 1 } },
        axisTick: hasTicks ? { show: true, customValues: r.ticks, length: 5, inside: false, lineStyle: TICK } : { show: false },
        axisLabel: hasTicks ? { show: true, customValues: r.ticks, fontSize: 16.5, fontFamily: FONT, color: "#000", margin: 10, formatter: fmtVal } : { show: false },
        splitLine: { show: false },
      });
      yAxis.push({
        type: "value", gridIndex: g, min: r.min, max: r.max, position: "left", z: 6, silent: true,
        axisLine: { show: false, onZero: false },
        axisTick: hasTicks ? { show: true, customValues: r.ticks, length: 5, inside: true, lineStyle: TICK } : { show: false },
        axisLabel: { show: false },
        splitLine: { show: false },
      });
      const s: any = {
        type: "line", xAxisIndex: 2 * g, yAxisIndex: 2 * g, data: r.data,
        showSymbol: false, symbol: "none", smooth: false, clip: true, silent: true,
        lineStyle: { color: r.color, width: 1.6 }, emphasis: { disabled: true }, z: 3,
      };
      if (r.areas) {
        s.markArea = { silent: true, label: { show: false }, emphasis: { disabled: true }, data: r.areas };
      }
      if (r.lines) {
        s.markLine = { silent: true, symbol: ["none", "none"], label: { show: false }, emphasis: { disabled: true },
          lineStyle: { color: "#000", width: 1.3, type: "solid" }, data: r.lines };
      }
      series.push(s);
    });
  });

  const richBase = { fontFamily: FONT, fontSize: 16.5, lineHeight: 21, color: "#000" };
  const graphic = titles.map((t) => ({
    type: "text", x: t.x, y: t.y, silent: true,
    style: {
      text: t.text, fill: "#000", fontFamily: FONT, fontSize: 16.5, lineHeight: 21,
      align: "center", verticalAlign: "middle",
      rich: {
        i: { ...richBase, fontStyle: "italic" },
        s: { fontFamily: FONT, fontSize: 11.5, lineHeight: 11, verticalAlign: "bottom", color: "#000" },
        u: { fontFamily: FONT, fontSize: 11.5, lineHeight: 11, verticalAlign: "top", color: "#000" },
      },
    },
  }));

  return { animation: false, grid, xAxis, yAxis, series, graphic };
}

export default function App() {
  const ref = useRef<HTMLDivElement>(null);
  useEffect(() => {
    if (!ref.current) return;
    const chart = echarts.init(ref.current, null, { renderer: "svg" });
    chart.setOption(buildOption() as any);
    return () => chart.dispose();
  }, []);
  return (
    <div style={{ position: "absolute", left: 0, top: 0, width: 471, height: 1313, overflow: "hidden", background: "#fff" }}>
      <div
        ref={ref}
        style={{
          position: "absolute", left: 0, top: 0, width: 1313, height: 471,
          transformOrigin: "0 0", transform: "translateY(1313px) rotate(-90deg)",
        }}
      />
    </div>
  );
}
